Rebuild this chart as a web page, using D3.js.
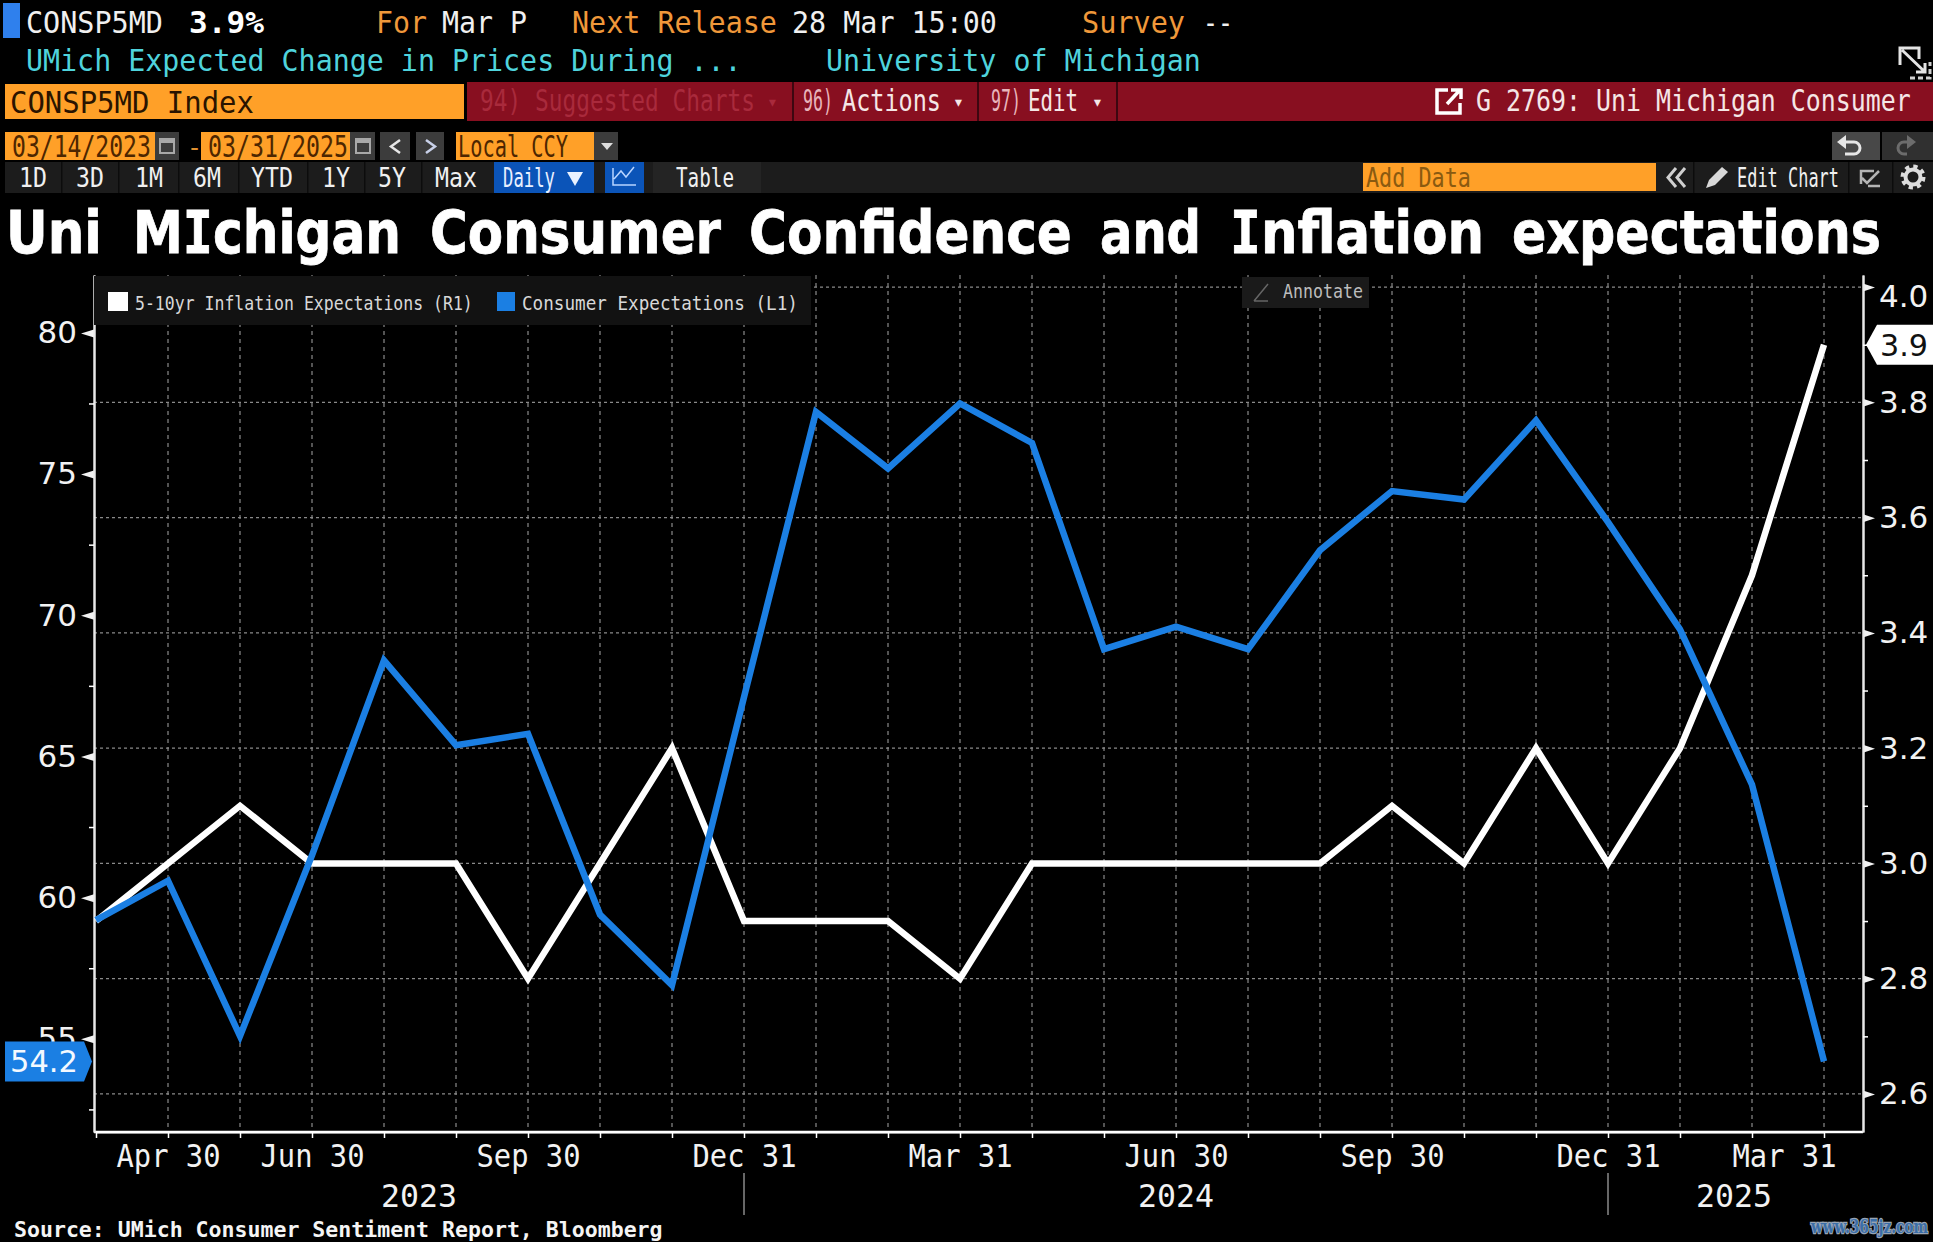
<!DOCTYPE html>
<html>
<head>
<meta charset="utf-8">
<script src="https://cdn.jsdelivr.net/npm/d3@7"></script>
<style>
  html, body { margin: 0; padding: 0; background: #000; overflow: hidden; }
  svg { display: block; }
</style>
</head>
<body>
<script>
const months = ['2023-03', '2023-04', '2023-05', '2023-06', '2023-07', '2023-08', '2023-09', '2023-10', '2023-11', '2023-12',
  '2024-01', '2024-02', '2024-03', '2024-04', '2024-05', '2024-06', '2024-07', '2024-08', '2024-09', '2024-10', '2024-11', '2024-12',
  '2025-01', '2025-02', '2025-03'];
const consumerExpectations = [59.2, 60.6, 55.1, 61.5, 68.4, 65.4, 65.8, 59.4, 56.9, 67.1, 77.2, 75.2, 77.5, 76.1, 68.8, 69.6, 68.8, 72.3, 74.4, 74.1, 76.9, 73.3, 69.5, 64.0, 54.2];
const inflationExpectations = [2.9, 3.0, 3.1, 3.0, 3.0, 3.0, 2.8, 3.0, 3.2, 2.9, 2.9, 2.9, 2.8, 3.0, 3.0, 3.0, 3.0, 3.0, 3.1, 3.0, 3.2, 3.0, 3.2, 3.5, 3.9];

const monthLabels = { '2023-04': 'Apr 30', '2023-06': 'Jun 30', '2023-09': 'Sep 30', '2023-12': 'Dec 31', '2024-03': 'Mar 31', '2024-06': 'Jun 30', '2024-09': 'Sep 30', '2024-12': 'Dec 31', '2025-03': 'Mar 31' };
const leftMajor = [55, 60, 65, 70, 75, 80];
const leftMinor = [52.5, 57.5, 62.5, 67.5, 72.5, 77.5];
const rightMajor = [2.6, 2.8, 3.0, 3.2, 3.4, 3.6, 3.8, 4.0];
const rightMinor = [2.7, 2.9, 3.1, 3.3, 3.5, 3.7, 3.9];
const yearSeparators = ['2023-12', '2024-12'];

const width = 1933;
const height = 1242;
const margin = { top: 275, right: 70, bottom: 110, left: 94 };
const mono = '"DejaVu Sans Mono", monospace';
const sans = '"DejaVu Sans", sans-serif';
const orange = '#ffa028';
const red = '#880f20';
const blue = '#1b7fe3';
const grey = '#3c3c3c';

const svg = d3.select('body').append('svg')
  .attr('width', width)
  .attr('height', height)
  .attr('viewBox', [0, 0, width, height]);

svg.append('rect').attr('width', width).attr('height', height).attr('fill', '#000');

function box(x0, y0, x1, y1, fill) {
  return svg.append('rect')
    .attr('x', x0)
    .attr('y', y0)
    .attr('width', x1 - x0)
    .attr('height', y1 - y0)
    .attr('fill', fill);
}

// squeeze a text sideways so it takes up w pixels, the screen font is narrow and tall
function fit(t, w, px, py) {
  const len = t.node().getComputedTextLength();
  t.attr('x', 0)
    .attr('y', 0)
    .attr('transform', `translate(${px},${py}) scale(${w / len},1)`);
  return t;
}

function label(str, x, y, size, fill, w, opts = {}) {
  const t = svg.append('text')
    .attr('x', x)
    .attr('y', y)
    .attr('font-family', opts.family || mono)
    .attr('font-size', size)
    .attr('font-weight', opts.weight || 'normal')
    .attr('text-anchor', opts.anchor || 'start')
    .attr('fill', fill)
    .text(str);
  if (w) fit(t, w, x, y);
  return t;
}

function icon(d, stroke, sw, fill = 'none') {
  return svg.append('path')
    .attr('d', d)
    .attr('fill', fill)
    .attr('stroke', stroke)
    .attr('stroke-width', sw);
}

// top header rows
box(3, 3, 20, 38, '#2f80ed');
label('CONSP5MD', 26, 33, 31, '#f0f0f0', 137);
label('3.9%', 189, 33, 31, '#fff', 75, { weight: 'bold' });
label('For', 376, 33, 31, '#f0983a', 51);
label('Mar P', 442, 33, 31, '#f0f0f0', 85);
label('Next Release', 572, 33, 31, '#f0983a', 205);
label('28 Mar 15:00', 792, 33, 31, '#f0f0f0', 205);
label('Survey', 1082, 33, 31, '#f0983a', 103);
label('--', 1203, 33, 31, '#f0f0f0', 30);
label('UMich Expected Change in Prices During ...', 26, 71, 31, '#4fd3dc', 716);
label('University of Michigan', 826, 71, 31, '#4fd3dc', 375);

// expand icon, top right
icon('M1900 65V48h19v11M1902 50l23 22m0-9v9h-9', '#e4e4e4', 3);
icon('M1910 78h20V62', '#cfcfcf', 3).attr('stroke-dasharray', '5 3');

// red command bar
box(467, 82, width, 121, red);
box(5, 84, 464, 119, orange);
label('CONSP5MD Index', 10, 113, 31, '#2a1400', 244);
label('94) Suggested Charts', 480, 111, 31, '#a92a3c', 275);
label('▾', 767, 108, 18, '#a92a3c');
box(792, 82, 794, 121, '#3d0710');
label('96)', 803, 111, 31, '#e8b5bb', 30);
label('Actions', 842, 111, 31, '#f5e6e6', 99);
label('▾', 953, 108, 18, '#f5e6e6');
box(977, 82, 979, 121, '#3d0710');
label('97)', 991, 111, 31, '#e8b5bb', 30);
label('Edit', 1028, 111, 31, '#f5e6e6', 50);
label('▾', 1092, 108, 18, '#f5e6e6');
box(1116, 82, 1118, 121, '#3d0710');
icon('M1448 90h-11v23h23v-10M1447 104l13-14m-9 0h10v9', '#fff', 3.500);
label('G 2769: Uni Michigan Consumer', 1476, 111, 31, '#f5e6e6', 435);

// date row
box(5, 132, 155, 160, orange);
box(155, 132, 179, 160, grey);
label('03/14/2023', 12, 157, 30, '#4d2600', 139);
label('-', 187, 156, 25, '#e09030');
box(201, 132, 350, 160, orange);
box(350, 132, 375, 160, grey);
label('03/31/2025', 208, 157, 30, '#4d2600', 140);
[167, 363].forEach(cx => {
  icon(`M${cx - 7} 139h14v14h-14z`, '#a8a8a8', 2);
  box(cx - 7, 139, cx + 7, 143, '#a8a8a8');
});
box(380, 132, 410, 160, grey);
icon('M400 140l-9 6.500 9 6.500', '#e6e6e6', 2.500);
box(416, 132, 444, 160, grey);
icon('M426 140l9 6.500-9 6.500', '#c8d0e8', 2.500);
box(456, 132, 594, 160, orange);
label('Local CCY', 458, 157, 30, '#4d2600', 110);
box(594, 132, 618, 160, grey);
svg.append('path').attr('d', 'M601 143h12l-6 7z').attr('fill', '#ddd');
box(1832, 132, 1880, 160, '#484848');
box(1882, 132, 1933, 160, '#303030');
icon('M1845 142h9a6 6 0 0 1 0 12h-9', '#e6e6e6', 3);
svg.append('path').attr('d', 'M1846 135v14l-9-7z').attr('fill', '#e6e6e6');
icon('M1908 142h-4a6 6 0 0 0 0 12h3', '#6c6c6c', 3);
svg.append('path').attr('d', 'M1907 135v14l9-7z').attr('fill', '#6c6c6c');

// range row
box(5, 162, width, 193, '#1c1c1c');
const rangeButtons = ['1D', '3D', '1M', '6M', 'YTD', '1Y', '5Y', 'Max'];
const rangeCenters = [33, 90, 149, 207, 272, 336, 392, 456];
rangeButtons.forEach((b, i) => {
  label(b, rangeCenters[i], 187, 26, '#f0f0f0', b.length * 14, { anchor: 'middle' });
});
[61, 118, 178, 238, 307, 364, 421, 1693, 1848, 1892].forEach(x => box(x, 162, x + 1.500, 193, '#0c0c0c'));
box(494, 162, 594, 193, '#0b54b8');
label('Daily', 503, 187, 26, '#e8f0ff', 52);
svg.append('path').attr('d', 'M567 172h16l-8 14z').attr('fill', '#eaf2ff');
box(605, 162, 644, 193, '#0b54b8');
icon('M613 168v17h23M614 179l7-8 5 6 8-10', '#b8d4ff', 1.500);
box(653, 162, 761, 193, '#242424');
label('Table', 705, 187, 26, '#f0f0f0', 58, { anchor: 'middle' });
box(1363, 163, 1656, 191, orange);
label('Add Data', 1366, 187, 26, '#8a5a10', 105);
icon('M1676 168l-8 9.500 8 9.500M1685 168l-8 9.500 8 9.500', '#d0d0d0', 3);
svg.append('path').attr('d', 'M1706 188l3-8 13-13 6 5-13 13z').attr('fill', '#d8d8d8');
label('Edit Chart', 1737, 187, 26, '#f0f0f0', 102);
icon('M1874 171h-13v13M1862 178l5 5 12-12M1868 186h12', '#b4b4b4', 2.500);
svg.append('circle').attr('cx', 1913).attr('cy', 177).attr('r', 10).attr('fill', 'none')
  .attr('stroke', '#ddd').attr('stroke-width', 5).attr('stroke-dasharray', '4 3.850');
svg.append('circle').attr('cx', 1913).attr('cy', 177).attr('r', 7.500).attr('fill', 'none')
  .attr('stroke', '#ddd').attr('stroke-width', 4);

// title, laid out word by word because its letters are not evenly spaced
const titleWords = ['Uni', 'MIchigan', 'Consumer', 'Confidence', 'and', 'Inflation', 'expectations'];
const titleSpans = [[6, 102], [133, 401], [430, 721], [749, 1072], [1100, 1201], [1230, 1484], [1512, 1881]];
titleWords.forEach((word, i) => {
  const t = label('', titleSpans[i][0], 253, 58, '#fff', null, { family: sans, weight: 'bold' })
    .attr('stroke', '#fff')
    .attr('stroke-width', 0.800);
  word.split(/(I)/).filter(Boolean).forEach(part => {
    t.append('tspan')
      .attr('font-family', part === 'I' ? mono : sans)
      .text(part);
  });
  fit(t, titleSpans[i][1] - titleSpans[i][0], titleSpans[i][0], 253);
});

// scales
const plotRight = width - margin.right;
const plotBottom = height - margin.bottom;

const x = d3.scalePoint()
  .domain(months)
  .range([96, 1824]);

const yLeft = d3.scaleLinear()
  .domain([51.7, 82.05])
  .range([plotBottom, margin.top]);

const yRight = d3.scaleLinear()
  .domain([2.534, 4.021])
  .range([plotBottom, margin.top]);

// grid
svg.append('g')
  .selectAll('line')
  .data(months.slice(1))
  .join('line')
  .attr('x1', d => x(d))
  .attr('x2', d => x(d))
  .attr('y1', margin.top)
  .attr('y2', plotBottom)
  .attr('stroke', '#8a8a8a')
  .attr('stroke-width', 1.200)
  .attr('stroke-dasharray', '4 4');

svg.append('g')
  .selectAll('line')
  .data(rightMajor)
  .join('line')
  .attr('x1', margin.left)
  .attr('x2', plotRight)
  .attr('y1', d => yRight(d))
  .attr('y2', d => yRight(d))
  .attr('stroke', '#8a8a8a')
  .attr('stroke-width', 1.200)
  .attr('stroke-dasharray', '3 3');

// axes
function styleAxis(g) {
  g.selectAll('path.domain').attr('stroke', '#e8e8e8').attr('stroke-width', 2);
  g.selectAll('line').attr('stroke', '#fff').attr('stroke-width', 1.500);
}

const xAxisG = svg.append('g')
  .attr('transform', `translate(0,${plotBottom})`)
  .call(d3.axisBottom(x).tickSize(6).tickSizeOuter(0).tickFormat(d => monthLabels[d] || ''))
  .call(styleAxis);

svg.append('line')
  .attr('x1', margin.left).attr('x2', plotRight)
  .attr('y1', plotBottom).attr('y2', plotBottom)
  .attr('stroke', '#fff').attr('stroke-width', 2.500);

xAxisG.selectAll('text')
  .attr('font-family', mono)
  .attr('font-size', 32)
  .attr('fill', '#f2f2f2')
  .attr('dy', null)
  .each(function (d) {
    if (monthLabels[d]) fit(d3.select(this), 104, d === '2025-03' ? -40 : 0, 35);
  });

const leftAxisG = svg.append('g')
  .attr('transform', `translate(${margin.left},0)`)
  .call(d3.axisLeft(yLeft).tickValues(leftMajor).tickSize(0).tickPadding(17).tickSizeOuter(0).tickFormat(d3.format('d')))
  .call(styleAxis);

leftAxisG.selectAll('.tick').append('path')
  .attr('d', 'M0 -4L-13 0L0 4Z')
  .attr('fill', '#f2f2f2');

leftAxisG.selectAll('text')
  .attr('font-family', sans)
  .attr('font-size', 31)
  .attr('fill', '#f2f2f2');

svg.append('g')
  .attr('transform', `translate(${margin.left},0)`)
  .call(d3.axisLeft(yLeft).tickValues(leftMinor).tickSize(5).tickSizeOuter(0).tickFormat(''))
  .call(styleAxis);

const rightAxisG = svg.append('g')
  .attr('transform', `translate(${plotRight},0)`)
  .call(d3.axisRight(yRight).tickValues(rightMajor).tickSize(0).tickPadding(16).tickSizeOuter(0).tickFormat(d3.format('.1f')))
  .call(styleAxis);

rightAxisG.selectAll('.tick').append('path')
  .attr('d', 'M0 -4L12 0L0 4Z')
  .attr('fill', '#f2f2f2');

rightAxisG.selectAll('text')
  .attr('font-family', sans)
  .attr('font-size', 31)
  .attr('fill', '#f2f2f2')
  .attr('transform', d => d === 4 ? 'translate(0,9)' : null);

svg.append('g')
  .attr('transform', `translate(${plotRight},0)`)
  .call(d3.axisRight(yRight).tickValues(rightMinor).tickSize(5).tickSizeOuter(0).tickFormat(''))
  .call(styleAxis);

// year labels and separators
const yearNames = ['2023', '2024', '2025'];
const yearAnchors = ['2023-07', '2024-06', '2025-02'];
const yearOffsets = [35, 0, -18];

svg.append('g')
  .selectAll('text')
  .data(yearNames)
  .join('text')
  .attr('text-anchor', 'middle')
  .attr('font-family', mono)
  .attr('font-size', 32)
  .attr('fill', '#f2f2f2')
  .text(d => d)
  .each(function (d, i) {
    fit(d3.select(this), 76, x(yearAnchors[i]) + yearOffsets[i], 1207);
  });

svg.append('g')
  .selectAll('line')
  .data(yearSeparators)
  .join('line')
  .attr('x1', d => x(d))
  .attr('x2', d => x(d))
  .attr('y1', 1173)
  .attr('y2', 1215)
  .attr('stroke', '#8a8a8a')
  .attr('stroke-width', 1.500);

// series
const lineLeft = d3.line().x((d, i) => x(months[i])).y(d => yLeft(d));
const lineRight = d3.line().x((d, i) => x(months[i])).y(d => yRight(d));

svg.append('path')
  .attr('d', lineRight(inflationExpectations))
  .attr('fill', 'none')
  .attr('stroke', '#fff')
  .attr('stroke-width', 6.500)
  .attr('stroke-linejoin', 'miter');

svg.append('path')
  .attr('d', lineLeft(consumerExpectations))
  .attr('fill', 'none')
  .attr('stroke', blue)
  .attr('stroke-width', 6.500)
  .attr('stroke-linejoin', 'miter');

// end-of-line badges
const lastLeft = consumerExpectations[consumerExpectations.length - 1];
const lastRight = inflationExpectations[inflationExpectations.length - 1];

const by = yLeft(lastLeft);
svg.append('path')
  .attr('d', `M5 ${by - 20}H84L92 ${by}L84 ${by + 20}H5Z`)
  .attr('fill', blue);
label(d3.format('.1f')(lastLeft), 44, by + 11, 31, '#f4f9ff', 68, { anchor: 'middle', family: sans });

const ry = yRight(lastRight);
svg.append('path')
  .attr('d', `M1866 ${ry}L1877 ${ry - 20}H1933V${ry + 20}H1877Z`)
  .attr('fill', '#fff');
label(d3.format('.1f')(lastRight), 1880, ry + 11, 31, '#111', 48, { family: sans });

// legend
box(94, 276, 811, 325, '#121212');
box(108, 292, 128, 311, '#fff');
label('5-10yr Inflation Expectations (R1)', 135, 310, 20, '#d8d8d8', 338);
box(497, 292, 515, 311, blue);
label('Consumer Expectations (L1)', 522, 310, 20, '#d8d8d8', 276);

// annotate button
box(1242, 277, 1369, 308, '#1a1a1a');
icon('M1254 301l14-17M1254 301h14', '#666', 1.500);
label('Annotate', 1283, 298, 20, '#bdbdbd', 80);

// footer
label('Source: UMich Consumer Sentiment Report, Bloomberg', 14, 1237, 22, '#f5f5f5', 649, { weight: 'bold' });
label('www.365jz.com', 1811, 1233, 19, '#3a6ea8', 117, { weight: 'bold', family: '"DejaVu Serif", serif' })
  .attr('stroke', '#98a4b4').attr('stroke-width', 2.500).attr('paint-order', 'stroke');
</script>
</body>
</html>
